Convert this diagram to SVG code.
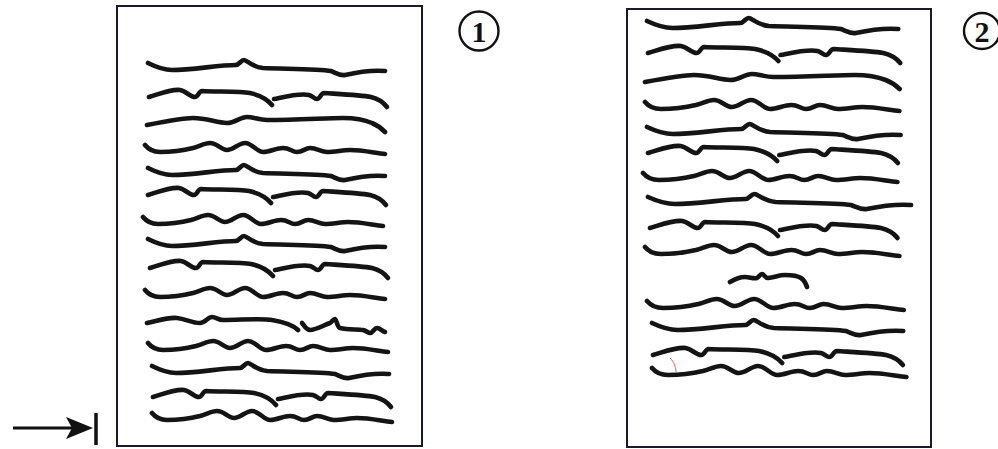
<svg xmlns="http://www.w3.org/2000/svg" xmlns:xlink="http://www.w3.org/1999/xlink" width="998" height="449" viewBox="0 0 998 449">
<style>
.page{fill:#fff;stroke:#1a1a2a;stroke-width:2}
.ln{fill:none;stroke:#141414;stroke-width:4.6;stroke-linecap:round;stroke-linejoin:round}
.num{fill:none;stroke:#111;stroke-width:2.4}
.lbl{font-family:"Liberation Serif",serif;font-weight:bold;font-size:30px;fill:#111;text-anchor:middle}
</style>
<defs>
<g id="A"><path class="ln" vector-effect="non-scaling-stroke" d="M0,-4 C8,0 15,3 24,3 C45,3 70,-2 88,-2 C91,-2 93,-7 96,-7 C99,-7 104,0 115,1 C140,2 170,2 183,4 C188,6 192,9 197,8 C210,5 225,3 237,4"/></g>
<g id="B"><path class="ln" vector-effect="non-scaling-stroke" d="M0,-3 C10,-6 22,-11 31,-10 C37,-9 41,-3 46,-3 C49,-3 50,-9 53,-9 C65,-8 90,-9 101,-7 C110,-5 118,-1 123,5"/><path class="ln" vector-effect="non-scaling-stroke" d="M125,-1 C135,-3 150,-7 160,-5 C164,-4 165,-1 168,-1 C171,-1 172,-7 175,-7 C190,-6 212,-5 222,-3 C230,-1 235,3 238,7"/></g>
<g id="C"><path class="ln" vector-effect="non-scaling-stroke" d="M0,-5 C4,0 9,2 15,2 C28,2 40,0 48,-2 C55,-4 60,-7 65,-7 C72,-7 76,0 82,0 C88,0 94,-7 100,-7 C107,-7 112,2 118,2 C125,2 131,-2 138,-2 C145,-2 147,2 152,2 C158,2 160,-2 165,-2 C172,-2 176,2 182,2 C190,2 198,0 205,0 C218,0 230,3 240,4"/></g>
<g id="D"><path class="ln" vector-effect="non-scaling-stroke" d="M0,0 C15,-3 35,-7 46,-7 C60,-7 70,-2 80,-2 C88,-2 93,-8 100,-8 C106,-8 112,-5 120,-5 C150,-5 180,-7 196,-7 C210,-7 218,-5 225,-2 C230,0 235,4 238,7"/></g>
</defs>

<g id="page1">
<rect class="page" x="117" y="6" width="305" height="440"/>
<use xlink:href="#A" transform="translate(148,67)"/>
<use xlink:href="#B" transform="translate(149,100)"/>
<use xlink:href="#D" transform="translate(147,125)"/>
<use xlink:href="#C" transform="translate(145,150)"/>
<use xlink:href="#A" transform="translate(148,172)"/>
<use xlink:href="#B" transform="translate(148,198)"/>
<use xlink:href="#C" transform="translate(143,222)"/>
<use xlink:href="#A" transform="translate(148,243)"/>
<use xlink:href="#B" transform="translate(150,271)"/>
<use xlink:href="#C" transform="translate(145,295)"/>
<path class="ln" d="M147,323 C157,321 168,317 177,318 C186,319 192,323 200,323 C205,323 208,317 212,317 C216,317 218,320 223,320 C240,320 262,318 272,320 C284,322 293,325 298,330"/>
<path class="ln" d="M302,323 C304,325 306,330 310,330 C316,330 324,325 330,323 C332,322 333,319 335,319 C337,320 337,327 340,328 C348,330 358,329 363,330 C367,331 368,333 370,333 C373,333 374,328 377,328 C380,328 382,331 385,332"/>
<use xlink:href="#C" transform="translate(148,348)"/>
<use xlink:href="#A" transform="translate(152,370)"/>
<use xlink:href="#B" transform="translate(153,400)"/>
<use xlink:href="#C" transform="translate(152,418)"/>
</g>

<g id="page2">
<rect class="page" x="627" y="9" width="304" height="438"/>
<use xlink:href="#A" transform="translate(647,25) scale(1.06,1)"/>
<use xlink:href="#B" transform="translate(648,56) scale(1.06,1)"/>
<use xlink:href="#D" transform="translate(645,82) scale(1.07,1)"/>
<use xlink:href="#C" transform="translate(645,107) scale(1.06,1)"/>
<use xlink:href="#A" transform="translate(647,131) scale(1.07,1)"/>
<use xlink:href="#B" transform="translate(648,156) scale(1.05,1)"/>
<use xlink:href="#C" transform="translate(643,178) scale(1.06,1)"/>
<use xlink:href="#A" transform="translate(648,201) scale(1.11,1)"/>
<use xlink:href="#B" transform="translate(650,231) scale(1.04,1)"/>
<use xlink:href="#C" transform="translate(645,252) scale(1.06,1)"/>
<path class="ln" d="M730,282 C735,279 740,277 745,277 C750,277 753,279 757,278 C759,277 760,274 762,274 C764,274 765,278 768,278 C775,277 780,275 785,275 C793,275 798,276 801,278 C804,280 806,284 807,287"/>
<use xlink:href="#C" transform="translate(647,306) scale(1.07,1)"/>
<use xlink:href="#A" transform="translate(652,327) scale(1.06,1)"/>
<use xlink:href="#B" transform="translate(653,358) scale(1.05,1)"/>
<use xlink:href="#C" transform="translate(652,373) scale(1.06,1)"/>
<path d="M670,358 C674,362 676,367 676,373" fill="none" stroke="#e06060" stroke-width="1"/>
</g>

<g id="label1">
<circle class="num" cx="479" cy="31" r="19.5"/>
<text class="lbl" x="479" y="41.5">1</text>
</g>
<g id="label2">
<circle class="num" cx="982" cy="31" r="18"/>
<text class="lbl" x="982" y="41.5">2</text>
</g>

<g id="connectors">
<line x1="13" y1="428" x2="80" y2="428" stroke="#111" stroke-width="3"/>
<path d="M66,417 L93,428 L66,439 L72,428 Z" fill="#111"/>
<line x1="96" y1="413" x2="96" y2="445" stroke="#111" stroke-width="3.5"/>
</g>
</svg>
